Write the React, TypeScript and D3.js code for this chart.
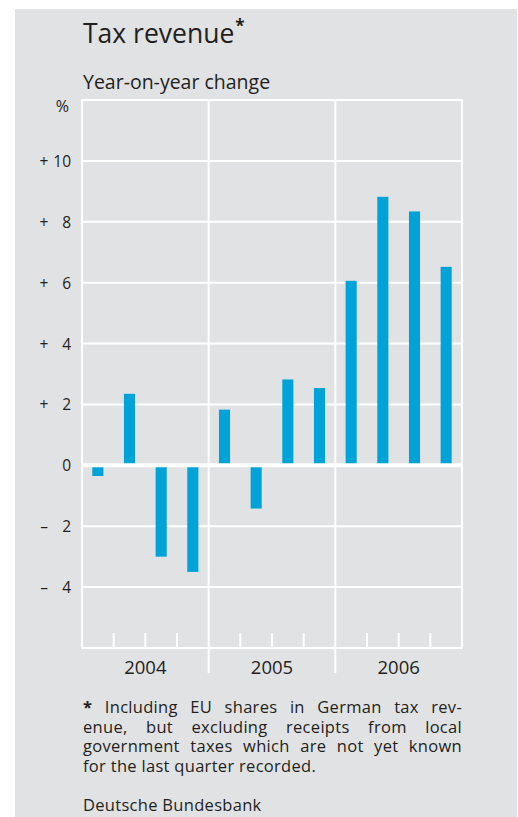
import { useEffect, useLayoutEffect, useRef, useState } from 'react';
import * as d3 from 'd3';

// quarterly year-on-year change of tax revenue, %
const years = ['2004', '2005', '2006'];
const quarters = ['2004Q1', '2004Q2', '2004Q3', '2004Q4', '2005Q1', '2005Q2', '2005Q3', '2005Q4', '2006Q1', '2006Q2', '2006Q3', '2006Q4'];
const values = [-0.35, 2.35, -3.0, -3.5, 1.83, -1.42, 2.82, 2.54, 6.06, 8.82, 8.34, 6.52];
const yTicks = [10, 8, 6, 4, 2, 0, -2, -4];
const footLines = [
  '* Including EU shares in German tax rev-',
  'enue, but excluding receipts from local',
  'government taxes which are not yet known',
  'for the last quarter recorded.',
];

const W = 518;
const H = 817;
const FONT = '"Open Sans", "DejaVu Sans", sans-serif';
const TEXT = '#231f20';
const BAR = '#00a3d8';
const BG = '#e1e2e4';

export default function App() {
  const footRef = useRef<SVGGElement | null>(null);
  const [spacing, setSpacing] = useState<number[]>([0, 0, 0, 0]);

  useEffect(() => {
    document.body.style.margin = '0';
  }, []);

  const left = 82, right = 462, top = 100, bottom = 648;
  const x = d3.scaleBand().domain(quarters).range([left, right]).paddingInner(0.65).paddingOuter(0.325);
  const xYear = d3.scaleBand().domain(years).range([left, right]);
  const y = d3.scaleLinear().domain([-6, 12]).range([bottom, top]);
  const footX0 = 83, footX1 = 462;

  // justify the first three footnote lines by word spacing
  useLayoutEffect(() => {
    if (!footRef.current) return;
    const nodes = d3.select(footRef.current).selectAll<SVGTextElement, unknown>('text.just').nodes();
    const sp = nodes.map((n, i) => {
      if (i > 2) return 0;
      const w = n.getComputedTextLength();
      const gaps = footLines[i].split(' ').length - 1;
      return (footX1 - footX0 - w) / gaps;
    });
    setSpacing(sp);
  }, []);

  const tickLabel = (v: number) => (v > 0 ? '+' : v < 0 ? '–' : '');

  return (
    <div style={{ position: 'absolute', left: 0, top: 0 }}>
      <svg width={W} height={H} style={{ display: 'block', fontFamily: FONT }}>
        <rect x={15} y={9} width={502} height={H - 9} fill={BG} />

        <text x={83} y={43} fontSize={26.5} fill={TEXT}>Tax revenue<tspan fontSize={17} dy={-11} dx={1} fontWeight="bold">*</tspan></text>
        <text x={83} y={89} fontSize={19.5} fill={TEXT}>Year-on-year change</text>
        <text x={69} y={112} fontSize={16} fill={TEXT} textAnchor="end">%</text>

        {/* grid */}
        {yTicks.filter(v => v !== 0).map(v => (
          <line key={v} x1={left} x2={right} y1={y(v)} y2={y(v)} stroke="#fff" strokeWidth={2} />
        ))}
        {years.slice(1).map(yr => (
          <line key={yr} x1={xYear(yr)} x2={xYear(yr)} y1={top} y2={673} stroke="#fff" strokeWidth={2} />
        ))}
        <rect x={left} y={top} width={right - left} height={bottom - top} fill="none" stroke="#fff" strokeWidth={2} />
        {quarters.slice(1).map((q, i) => (
          (i + 1) % 4 === 0 ? null : (
            <line key={q} x1={(x(q) ?? 0) - x.step() * 0.325} x2={(x(q) ?? 0) - x.step() * 0.325}
              y1={633} y2={bottom} stroke="#fff" strokeWidth={2} />
          )
        ))}

        {/* bars */}
        {values.map((v, i) => (
          <rect key={quarters[i]} x={x(quarters[i])} width={x.bandwidth()}
            y={y(Math.max(0, v))} height={Math.abs(y(v) - y(0))} fill={BAR} />
        ))}
        <line x1={left} x2={right} y1={y(0)} y2={y(0)} stroke="#fff" strokeWidth={4} />

        {/* y labels */}
        {yTicks.map(v => (
          <g key={v} fontSize={15.5} fill={TEXT}>
            <text x={44} y={y(v) + 6} textAnchor="middle">{tickLabel(v)}</text>
            <text x={71} y={y(v) + 6} textAnchor="end">{Math.abs(v)}</text>
          </g>
        ))}

        {/* year labels */}
        {years.map(yr => (
          <text key={yr} x={(xYear(yr) ?? 0) + xYear.bandwidth() / 2} y={674} fontSize={18.5}
            textAnchor="middle" fill={TEXT}>{yr}</text>
        ))}

        {/* footnote */}
        <g ref={footRef} fontSize={16.5} fill={TEXT} letterSpacing={0.3}>
          {footLines.map((l, i) => (
            <text key={i} className="just" x={footX0} y={713.3 + i * 19.5}
              wordSpacing={spacing[i]} xmlSpace="preserve">
              {i === 0 ? (<><tspan fontWeight="bold">*</tspan>{l.slice(1)}</>) : l}
            </text>
          ))}
          <text x={footX0} y={810.5}>Deutsche Bundesbank</text>
        </g>
      </svg>
    </div>
  );
}
